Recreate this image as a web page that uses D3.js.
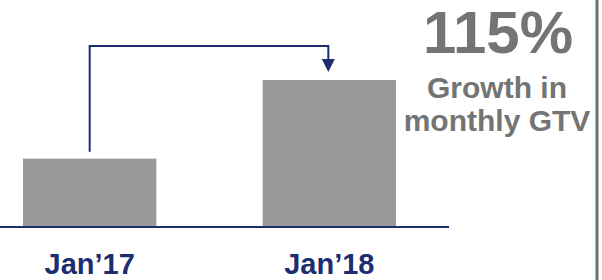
<!DOCTYPE html>
<html>
<head>
<meta charset="utf-8">
<script src="https://cdn.jsdelivr.net/npm/d3@7"></script>
<style>
  body { margin: 0; background: #fff; }
  svg { display: block; font-family: Arial, "Liberation Sans", sans-serif; }
</style>
</head>
<body>
<div id="chart"></div>
<script>
// data
var categories = ["Jan\u201917", "Jan\u201918"];
var values = [100, 215];
var growthLabel = "115%";
var subLabel = ["Growth in", "monthly GTV"];

var width = 602, height = 280;
var navy = "#1c2d70", barColor = "#999999", textGray = "#747474";

var svg = d3.select("#chart").append("svg")
  .attr("width", width)
  .attr("height", height);

var x = d3.scaleBand()
  .domain(categories)
  .range([23, 396])
  .paddingInner(0.4435)
  .paddingOuter(0);

var y = d3.scaleLinear()
  .domain([0, 215])
  .range([227, 80]);

// bars
svg.selectAll("rect.bar")
  .data(values)
  .enter().append("rect")
  .attr("class", "bar")
  .attr("x", (d, i) => x(categories[i]))
  .attr("y", d => y(d))
  .attr("width", x.bandwidth())
  .attr("height", d => y(0) - y(d))
  .attr("fill", barColor);

// baseline
svg.append("line")
  .attr("x1", 0).attr("x2", 449)
  .attr("y1", y(0)).attr("y2", y(0))
  .attr("stroke", navy)
  .attr("stroke-width", 2);

// category labels
svg.selectAll("text.cat")
  .data(categories)
  .enter().append("text")
  .attr("class", "cat")
  .attr("x", d => x(d) + x.bandwidth() / 2)
  .attr("y", 274)
  .attr("text-anchor", "middle")
  .attr("font-size", 29)
  .attr("font-weight", "bold")
  .attr("fill", navy)
  .text(d => d);

// connector arrow
var cx0 = x(categories[0]) + x.bandwidth() / 2,
    cx1 = x(categories[1]) + x.bandwidth() / 2 - 1;
var topY = 46;
var tip = y(values[1]) - 8;
svg.append("path")
  .attr("d", `M${cx0},${y(values[0]) - 7}V${topY}H${cx1}V${tip - 10}`)
  .attr("fill", "none")
  .attr("stroke", navy)
  .attr("stroke-width", 2);
svg.append("path")
  .attr("d", `M${cx1 - 6.5},${tip - 13}L${cx1 + 6.5},${tip - 13}L${cx1},${tip}Z`)
  .attr("fill", navy);

// growth callout
svg.append("text")
  .attr("x", 498).attr("y", 53)
  .attr("text-anchor", "middle")
  .attr("font-size", 60)
  .attr("font-weight", "bold")
  .attr("fill", textGray)
  .text(growthLabel);

svg.selectAll("text.sub")
  .data(subLabel)
  .enter().append("text")
  .attr("class", "sub")
  .attr("x", 497)
  .attr("y", (d, i) => 98 + i * 33)
  .attr("text-anchor", "middle")
  .attr("font-size", 30)
  .attr("font-weight", "bold")
  .attr("fill", textGray)
  .text(d => d);

// right border line
svg.append("line")
  .attr("x1", 597).attr("x2", 597)
  .attr("y1", 0).attr("y2", height)
  .attr("stroke", "#707070")
  .attr("stroke-width", 3);
</script>
</body>
</html>
